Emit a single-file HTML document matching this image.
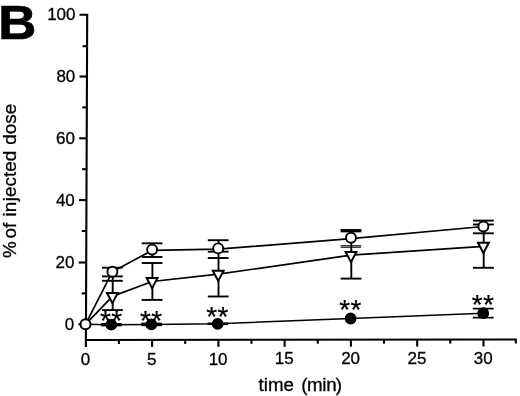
<!DOCTYPE html>
<html lang="en"><head><meta charset="utf-8"><title>Figure B</title>
<style>html,body{margin:0;padding:0;background:#fff}svg{display:block}</style></head>
<body>
<svg width="520" height="396" viewBox="0 0 520 396">
<rect width="520" height="396" fill="#fff"/>
<g stroke="#000" fill="none" stroke-width="2.1" stroke-linecap="butt">
<path d="M79.5 14.8 H87.2 L85.9 340 V347"/>
<path d="M78.5 324.3 H86.0"/>
<path d="M81.6 293.4 H86.1"/>
<path d="M78.7 262.5 H86.2"/>
<path d="M81.8 231.0 H86.3"/>
<path d="M79.0 200.1 H86.5"/>
<path d="M82.1 169.2 H86.6"/>
<path d="M79.2 138.3 H86.7"/>
<path d="M82.3 107.4 H86.8"/>
<path d="M79.5 76.5 H87.0"/>
<path d="M82.6 46.2 H87.1"/>
<path d="M85.9 340 L515.8 339.5 V343.6"/>
<path d="M118.9 340.0 V344.0"/>
<path d="M152.1 339.9 V346.9"/>
<path d="M185.2 339.9 V343.9"/>
<path d="M218.4 339.8 V346.8"/>
<path d="M251.5 339.8 V343.8"/>
<path d="M284.6 339.8 V346.8"/>
<path d="M317.8 339.7 V343.7"/>
<path d="M350.9 339.7 V346.7"/>
<path d="M384.0 339.7 V343.7"/>
<path d="M417.2 339.6 V346.6"/>
<path d="M450.3 339.6 V343.6"/>
<path d="M483.5 339.5 V346.5"/>
</g>
<g stroke="#000" fill="none" stroke-width="1.9" stroke-linejoin="round">
<polyline points="85.5,324.3 112.4,271.7 152.1,250.4 218.2,249.2 351.0,238.6 483.4,226.5" stroke-width="1.7"/>
<polyline points="85.5,324.3 112.4,296.4 152.1,281.5 218.2,274.2 351.0,255.1 483.4,246.3" stroke-width="1.7"/>
<polyline points="85.5,324.3 111.3,324.7 151.4,324.4 217.7,323.8 350.6,318.5 483.2,313.2" stroke-width="1.5"/>
</g>
<g stroke="#000" fill="none" stroke-width="1.9">
<path d="M112.7 267.7 V310.1"/>
<path d="M152.4 243.3 V257.0"/>
<path d="M152.4 263.0 V299.9"/>
<path d="M218.5 240.2 V296.5"/>
<path d="M351.3 230.0 V278.6"/>
<path d="M483.7 220.6 V267.8"/>
<path d="M102.0 267.7 H122.8"/>
<path d="M102.0 276.4 H122.8"/>
<path d="M102.0 280.8 H122.8"/>
<path d="M102.0 310.1 H122.8"/>
<path d="M141.7 243.3 H162.5"/>
<path d="M141.7 257.0 H162.5"/>
<path d="M141.7 263.0 H162.5"/>
<path d="M141.7 299.9 H162.5"/>
<path d="M207.8 240.2 H228.6"/>
<path d="M207.8 251.7 H228.6"/>
<path d="M207.8 258.0 H228.6"/>
<path d="M207.8 296.5 H228.6"/>
<path d="M340.6 230.0 H361.4"/>
<path d="M340.6 231.4 H361.4"/>
<path d="M340.6 278.6 H361.4"/>
<path d="M473.0 220.6 H493.8"/>
<path d="M473.0 224.5 H493.8"/>
<path d="M473.0 233.3 H493.8"/>
<path d="M473.0 267.8 H493.8"/>
<path d="M340.6 245.8 H361.2 M340.6 247.3 H361.2" stroke-width="1.1"/>
<path d="M472.8 308.6 H493.6 M472.8 317.6 H493.6"/>
</g>
<g stroke="#000">
<path d="M101.1 324.7 H121.7" stroke-width="3.4"/>
<path d="M141.2 324.4 H161.8" stroke-width="3.6"/>
<path d="M207.5 323.8 H228.1" stroke-width="2.6"/>
</g>
<g stroke="#000" stroke-width="1.8">
<path d="M107.0 292.9 H117.8 L112.4 303.1 Z" fill="#fff" stroke-linejoin="miter" stroke-width="2"/>
<path d="M146.7 278.0 H157.5 L152.1 288.2 Z" fill="#fff" stroke-linejoin="miter" stroke-width="2"/>
<path d="M212.8 270.7 H223.6 L218.2 280.9 Z" fill="#fff" stroke-linejoin="miter" stroke-width="2"/>
<path d="M345.6 251.9 H356.4 L351.0 262.1 Z" fill="#fff" stroke-linejoin="miter" stroke-width="2"/>
<path d="M478.0 242.8 H488.8 L483.4 253.0 Z" fill="#fff" stroke-linejoin="miter" stroke-width="2"/>
<circle cx="85.5" cy="324.3" r="5.0" fill="#fff" stroke-width="1.9"/>
<circle cx="112.4" cy="271.7" r="5.0" fill="#fff" stroke-width="1.9"/>
<circle cx="152.1" cy="249.6" r="5.0" fill="#fff" stroke-width="1.9"/>
<circle cx="218.2" cy="248.4" r="5.0" fill="#fff" stroke-width="1.9"/>
<circle cx="351.0" cy="237.8" r="5.0" fill="#fff" stroke-width="1.9"/>
<circle cx="483.4" cy="226.5" r="5.0" fill="#fff" stroke-width="1.9"/>
<circle cx="111.3" cy="324.7" r="5.1" fill="#000" stroke-width="1.6"/>
<circle cx="151.4" cy="324.4" r="5.1" fill="#000" stroke-width="1.6"/>
<circle cx="217.7" cy="323.8" r="5.1" fill="#000" stroke-width="1.6"/>
<circle cx="350.6" cy="318.5" r="5.1" fill="#000" stroke-width="1.6"/>
<circle cx="483.2" cy="313.2" r="5.1" fill="#000" stroke-width="1.6"/>
</g>
<g font-family="'Liberation Sans', Arial, Helvetica, sans-serif" fill="#000" stroke="#000" stroke-width="0.3">
<text transform="translate(2.4 39.3) scale(1.10 1)" x="-3.7" y="0" font-size="48" font-weight="bold" stroke="#000" stroke-width="0.7">B</text>
<text x="74.3" y="330.0" font-size="17" text-anchor="end">0</text>
<text x="74.5" y="268.0" font-size="17" text-anchor="end">20</text>
<text x="74.8" y="206.1" font-size="17" text-anchor="end">40</text>
<text x="75.0" y="144.1" font-size="17" text-anchor="end">60</text>
<text x="75.3" y="82.2" font-size="17" text-anchor="end">80</text>
<text x="75.5" y="20.2" font-size="17" text-anchor="end">100</text>
<text x="85.5" y="364.9" font-size="17" text-anchor="middle">0</text>
<text x="151.8" y="364.7" font-size="17" text-anchor="middle">5</text>
<text x="218.1" y="364.5" font-size="17" text-anchor="middle">10</text>
<text x="284.3" y="364.3" font-size="17" text-anchor="middle">15</text>
<text x="350.6" y="364.2" font-size="17" text-anchor="middle">20</text>
<text x="416.9" y="364.0" font-size="17" text-anchor="middle">25</text>
<text x="483.2" y="363.8" font-size="17" text-anchor="middle">30</text>
<text x="300.3" y="391" font-size="18.8" text-anchor="middle">time <tspan dx="2">(</tspan><tspan dx="-0.4">m</tspan><tspan dx="-0.4">i</tspan><tspan dx="-0.2">n</tspan><tspan dx="-1">)</tspan></text>
<text transform="translate(16.4 181.6) rotate(-90)" font-size="18.9" text-anchor="middle"><tspan dx="0.8">% </tspan><tspan dx="-2.6">of </tspan><tspan dx="1">in</tspan><tspan dx="0.6">jected </tspan><tspan dx="0.8">dose</tspan></text>
<text x="111.2" y="329.9" font-size="28" text-anchor="middle" letter-spacing="0.4" stroke="#000" stroke-width="0.25">**</text>
<text x="151.3" y="330.0" font-size="28" text-anchor="middle" letter-spacing="0.4" stroke="#000" stroke-width="0.25">**</text>
<text x="217.6" y="325.7" font-size="28" text-anchor="middle" letter-spacing="0.4" stroke="#000" stroke-width="0.25">**</text>
<text x="350.5" y="319.3" font-size="28" text-anchor="middle" letter-spacing="0.4" stroke="#000" stroke-width="0.25">**</text>
<text x="483.1" y="314.1" font-size="28" text-anchor="middle" letter-spacing="0.4" stroke="#000" stroke-width="0.25">**</text>
</g>
</svg>
</body></html>
